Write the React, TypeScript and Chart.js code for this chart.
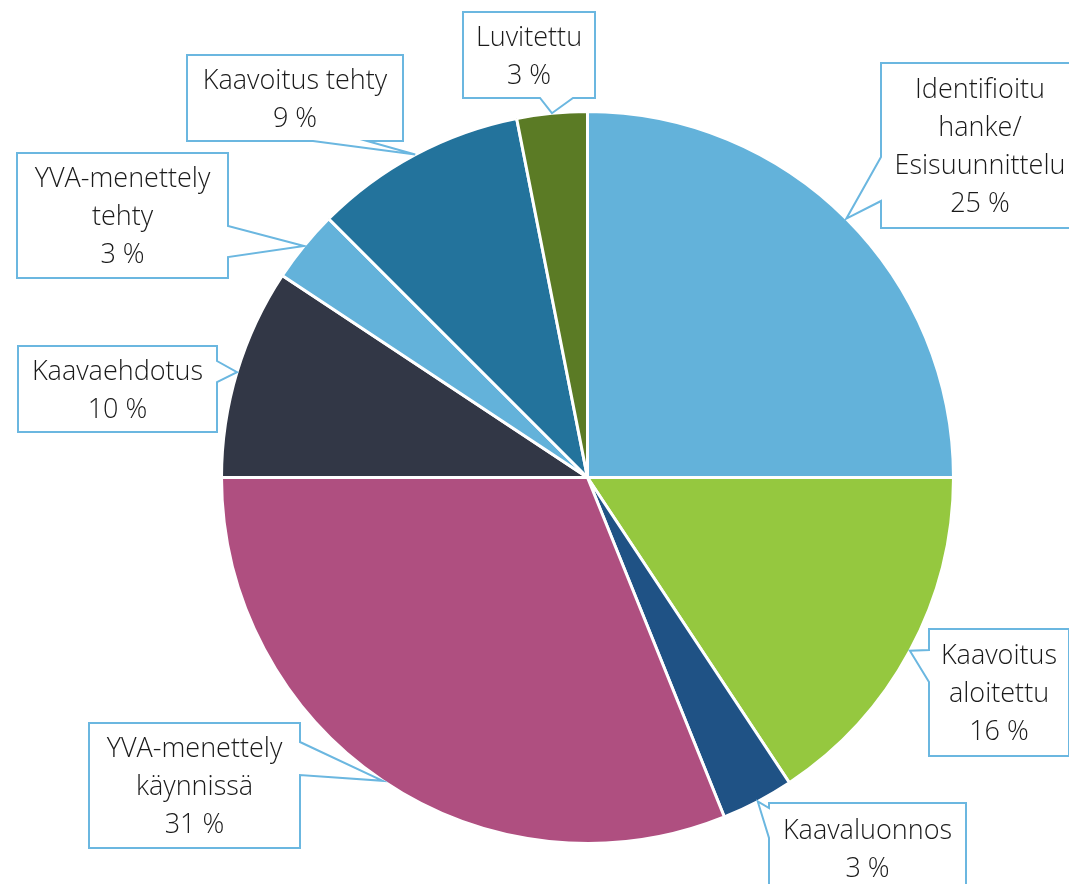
import React, { useEffect, useRef } from "react";
import { Chart, registerables } from "chart.js";

Chart.register(...registerables);

const categories: string[][] = [
  ["Identifioitu", "hanke/", "Esisuunnittelu"],
  ["Kaavoitus", "aloitettu"],
  ["Kaavaluonnos"],
  ["YVA-menettely", "käynnissä"],
  ["Kaavaehdotus"],
  ["YVA-menettely", "tehty"],
  ["Kaavoitus tehty"],
  ["Luvitettu"],
];
const values: number[] = [25, 15.7, 3.2, 31.1, 9.3, 3.2, 9.4, 3.1];
const percentLabels: string[] = ["25 %", "16 %", "3 %", "31 %", "10 %", "3 %", "9 %", "3 %"];
const colors: string[] = [
  "#63B2DA",
  "#95C83F",
  "#1F5285",
  "#AF4F80",
  "#323746",
  "#63B2DA",
  "#23739C",
  "#5B7B25",
];

type Box = { x: number; y: number; w: number; h: number; side: string; b0: number; b1: number };
const calloutBoxes: Box[] = [
  { x: 881, y: 63, w: 198, h: 165, side: "left", b0: 157, b1: 201 },
  { x: 929, y: 629, w: 140, h: 127, side: "left", b0: 650, b1: 682 },
  { x: 769, y: 803, w: 197, h: 91, side: "left", b0: 808, b1: 838 },
  { x: 89, y: 723, w: 211, h: 125, side: "right", b0: 742, b1: 775 },
  { x: 18, y: 346, w: 199, h: 86, side: "right", b0: 361, b1: 382 },
  { x: 17, y: 153, w: 211, h: 125, side: "right", b0: 226, b1: 257 },
  { x: 187, y: 55, w: 216, h: 86, side: "bottom", b0: 313, b1: 367 },
  { x: 463, y: 12, w: 132, h: 86, side: "bottom", b0: 540, b1: 573 },
];

const FONT = "300 27px 'Open Sans', 'Noto Sans', sans-serif";
const LINE_H = 38;

const calloutPlugin = {
  id: "callouts",
  afterDraw(chart: any) {
    const ctx = chart.ctx as CanvasRenderingContext2D;
    const meta = chart.getDatasetMeta(0);
    meta.data.forEach((arc: any, i: number) => {
      const b = calloutBoxes[i];
      if (!b) return;
      const p = arc.getProps(["x", "y", "startAngle", "endAngle", "outerRadius"], true);
      const mid = (p.startAngle + p.endAngle) / 2;
      const tx = p.x + Math.cos(mid) * p.outerRadius;
      const ty = p.y + Math.sin(mid) * p.outerRadius;
      const { x, y, w, h } = b;
      ctx.save();
      ctx.beginPath();
      ctx.moveTo(x, y);
      ctx.lineTo(x + w, y);
      if (b.side === "right") {
        ctx.lineTo(x + w, b.b0);
        ctx.lineTo(tx, ty);
        ctx.lineTo(x + w, b.b1);
      }
      ctx.lineTo(x + w, y + h);
      if (b.side === "bottom") {
        ctx.lineTo(b.b1, y + h);
        ctx.lineTo(tx, ty);
        ctx.lineTo(b.b0, y + h);
      }
      ctx.lineTo(x, y + h);
      if (b.side === "left") {
        ctx.lineTo(x, b.b1);
        ctx.lineTo(tx, ty);
        ctx.lineTo(x, b.b0);
      }
      ctx.closePath();
      ctx.fillStyle = "#ffffff";
      ctx.fill();
      ctx.lineWidth = 2;
      ctx.strokeStyle = "#6BB7E0";
      ctx.lineJoin = "miter";
      ctx.stroke();

      const lines = [...categories[i], percentLabels[i]];
      ctx.font = FONT;
      ctx.fillStyle = "#1a1a1a";
      ctx.textAlign = "center";
      ctx.textBaseline = "middle";
      const cx = x + w / 2;
      const cy = y + h / 2;
      lines.forEach((t, k) => {
        ctx.fillText(t, cx, cy + (k - (lines.length - 1) / 2) * LINE_H + 2);
      });
      ctx.restore();
    });
  },
};

export default function App() {
  const ref = useRef<HTMLCanvasElement>(null);
  useEffect(() => {
    document.body.style.margin = "0";
    const canvas = ref.current!;
    const chart = new Chart(canvas, {
      type: "pie",
      data: {
        labels: categories.map((c) => c.join(" ")),
        datasets: [
          {
            data: values,
            backgroundColor: colors,
            borderColor: "#ffffff",
            borderWidth: 3,
          },
        ],
      },
      options: {
        responsive: false,
        animation: false,
        devicePixelRatio: 1,
        layout: { padding: { left: 220, right: 114, top: 110, bottom: 39 } },
        plugins: {
          legend: { display: false },
          tooltip: { enabled: false },
        },
      },
      plugins: [calloutPlugin],
    });
    return () => chart.destroy();
  }, []);
  return (
    <div style={{ width: 1069, height: 884, background: "#fff" }}>
      <canvas ref={ref} width={1069} height={884} style={{ display: "block" }} />
    </div>
  );
}
